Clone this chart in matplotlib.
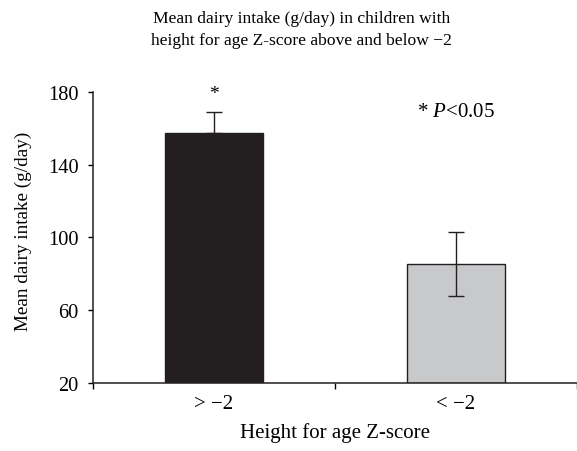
import matplotlib
matplotlib.use("Agg")
import matplotlib.pyplot as plt
import numpy as np

# data
groups = ["> \u22122", "< \u22122"]
means = [157.2, 85.5]
errs = [11.8, 17.5]
colors = ["#231f20", "#c8c9cb"]

plt.rcParams["font.family"] = ["Liberation Serif", "DejaVu Serif"]
plt.rcParams["mathtext.fontset"] = "custom"
plt.rcParams["mathtext.it"] = "Liberation Serif:italic"
plt.rcParams["mathtext.rm"] = "Liberation Serif"

fig = plt.figure(figsize=(5.77, 4.52), dpi=100)
ax = fig.add_axes([0.1607, 0.1498, 0.8393, 0.6452])

x = np.arange(len(groups))
ax.bar(x, [m - 20 for m in means], bottom=20, width=0.406, color=colors,
       edgecolor="#231f20", linewidth=1.0, zorder=2)
for xi, m, e in zip(x, means, errs):
    lo = e if xi == 1 else 0
    ax.errorbar(xi, m, yerr=[[lo], [e]], fmt="none", ecolor="#231f20",
                elinewidth=1.0, capsize=5.5, capthick=1.0, zorder=3)

ax.set_xlim(-0.5, 1.5)
ax.set_ylim(20, 180)
ax.set_yticks([20, 60, 100, 140, 180])
ax.set_xticks([-0.5, 0.5, 1.5])
ax.set_xticklabels([])
ax.set_xticks(x, minor=True)
ax.set_xticklabels(groups, minor=True)
ax.tick_params(axis="x", which="minor", length=0, pad=8, labelsize=15)
ax.tick_params(axis="x", which="major", length=4.5, direction="out", width=1)
ax.tick_params(axis="y", length=3.8, direction="out", width=1, labelsize=14.7, pad=6.5)
for s in ["top", "right"]:
    ax.spines[s].set_visible(False)
for s in ["left", "bottom"]:
    ax.spines[s].set_linewidth(1.1)
    ax.spines[s].set_color("#231f20")

ax.set_ylabel("Mean dairy intake (g/day)", fontsize=13.8)
ax.yaxis.set_label_coords(-0.125, 0.525)
ax.set_xlabel("Height for age Z-score", fontsize=15, labelpad=6)
ax.text(0, 179, "*", ha="center", va="center", fontsize=14)
ax.text(1, 169, "* $P$<0.05", ha="center", va="center", fontsize=15)

fig.text(0.522, 0.975, "Mean dairy intake (g/day) in children with\nheight for age Z-score above and below \u22122",
         ha="center", va="top", fontsize=12.6, linespacing=1.45)

fig.savefig("out.png", dpi=100)
